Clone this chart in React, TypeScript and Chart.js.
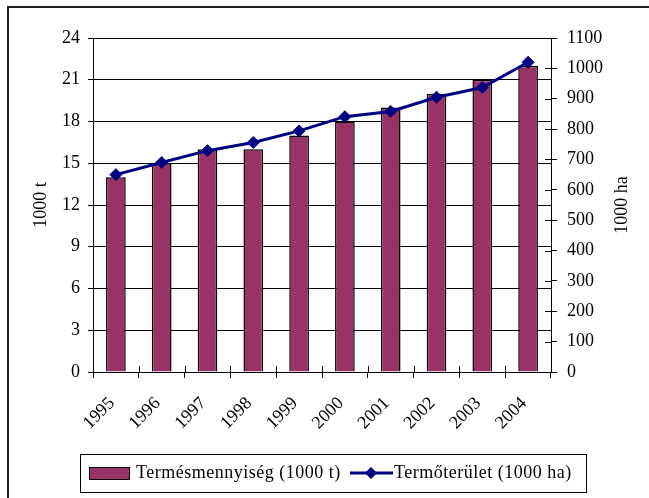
import React, { useEffect, useRef } from "react";
import { Chart, registerables } from "chart.js";

Chart.register(...registerables);

const years = ["1995", "1996", "1997", "1998", "1999", "2000", "2001", "2002", "2003", "2004"];
const yieldValues = [14, 15, 16, 16, 17, 18, 19, 20, 21, 22];
const areaValues = [650, 690, 729, 756, 794, 841, 858, 905, 937, 1020];
const seriesNames = ["Termésmennyiség (1000 t)", "Termőterület (1000 ha)"];
const axisTitles = ["1000 t", "1000 ha"];
const leftRange = [0, 24, 3];
const rightRange = [0, 1100, 100];

const BAR = "#993366";
const LINE = "#000080";
const FONT = "'Liberation Serif', 'Times New Roman', serif";

const decorPlugin = {
  id: "decor",
  afterDraw(chart: any) {
    const ctx = chart.ctx as CanvasRenderingContext2D;
    const { right, top, bottom } = chart.chartArea;
    ctx.save();
    // outer frame (partially visible)
    ctx.strokeStyle = "#222";
    ctx.lineWidth = 2;
    ctx.beginPath();
    ctx.moveTo(8, 498);
    ctx.lineTo(8, 7);
    ctx.lineTo(649, 7);
    ctx.stroke();

    // inner parts of x ticks
    ctx.strokeStyle = "#000";
    ctx.lineWidth = 1;
    const xs = chart.scales.x;
    for (let i = 0; i <= years.length; i++) {
      const px = Math.round(xs.getPixelForValue(i - 0.5)) + 0.5;
      ctx.beginPath();
      ctx.moveTo(px, bottom - 6);
      ctx.lineTo(px, bottom);
      ctx.stroke();
    }
    // inner parts of right ticks
    const y1 = chart.scales.y1;
    for (let v = rightRange[0]; v <= rightRange[1]; v += rightRange[2]) {
      const py = Math.round(y1.getPixelForValue(v)) + 0.5;
      ctx.beginPath();
      ctx.moveTo(right - 6, py);
      ctx.lineTo(right, py);
      ctx.stroke();
    }

    // axis titles
    ctx.fillStyle = "#000";
    ctx.font = `18px ${FONT}`;
    ctx.textAlign = "center";
    ctx.textBaseline = "middle";
    const cy = (top + bottom) / 2;
    ctx.save();
    ctx.translate(41, cy);
    ctx.rotate(-Math.PI / 2);
    ctx.fillText(axisTitles[0], 0, 0);
    ctx.restore();
    ctx.save();
    ctx.translate(622, cy);
    ctx.rotate(-Math.PI / 2);
    ctx.fillText(axisTitles[1], 0, 0);
    ctx.restore();

    // legend
    ctx.strokeStyle = "#000";
    ctx.lineWidth = 1;
    ctx.strokeRect(80.5, 454.5, 506, 38);
    const ly = 473;
    ctx.fillStyle = BAR;
    ctx.fillRect(89, 467, 40, 12);
    ctx.strokeRect(89.5, 467.5, 40, 12);
    ctx.fillStyle = "#000";
    ctx.textAlign = "left";
    ctx.textBaseline = "middle";
    (ctx as any).letterSpacing = "0.5px";
    ctx.fillText(seriesNames[0], 136, ly);
    ctx.strokeStyle = LINE;
    ctx.lineWidth = 3;
    ctx.beginPath();
    ctx.moveTo(350, ly);
    ctx.lineTo(393, ly);
    ctx.stroke();
    ctx.fillStyle = LINE;
    ctx.beginPath();
    ctx.moveTo(371 - 6, ly);
    ctx.lineTo(371, ly - 6);
    ctx.lineTo(371 + 6, ly);
    ctx.lineTo(371, ly + 6);
    ctx.closePath();
    ctx.fill();
    ctx.fillStyle = "#000";
    ctx.fillText(seriesNames[1], 394, ly);
    ctx.restore();
  },
};

export default function App() {
  const ref = useRef<HTMLCanvasElement>(null);
  useEffect(() => {
    document.body.style.margin = "0";
    document.body.style.overflow = "hidden";
    const canvas = ref.current!;
    const plain = (v: any) => String(v);
    const chart = new Chart(canvas, {
      type: "bar",
      data: {
        labels: years,
        datasets: [
          {
            type: "line",
            label: seriesNames[1],
            data: areaValues,
            yAxisID: "y1",
            borderColor: LINE,
            backgroundColor: LINE,
            borderWidth: 3,
            pointStyle: "rectRot",
            pointRadius: 6,
            pointBorderWidth: 1,
            pointBackgroundColor: LINE,
            pointBorderColor: LINE,
            tension: 0,
            order: 0,
          } as any,
          {
            type: "bar",
            label: seriesNames[0],
            data: yieldValues,
            yAxisID: "y",
            backgroundColor: BAR,
            borderColor: "#000",
            borderWidth: 1.5,
            categoryPercentage: 1,
            barPercentage: 0.43,
            order: 1,
          },
        ],
      },
      options: {
        responsive: false,
        animation: false,
        layout: { padding: { left: 0, right: 0, top: 38, bottom: 0 } },
        plugins: { legend: { display: false }, tooltip: { enabled: false } },
        scales: {
          x: {
            type: "category",
            offset: true,
            grid: { offset: true, drawOnChartArea: false, tickLength: 6, color: "#000" },
            border: { display: true, color: "#000" },
            ticks: {
              minRotation: 45,
              maxRotation: 45,
              autoSkip: false,
              color: "#000",
              font: { family: FONT, size: 18 },
              padding: 15,
              labelOffset: -4,
            },
            afterFit: (s: any) => {
              s.height = 126;
            },
          },
          y: {
            position: "left",
            min: leftRange[0],
            max: leftRange[1],
            ticks: {
              stepSize: leftRange[2],
              color: "#000",
              font: { family: FONT, size: 18 },
              padding: 8,
              callback: plain,
            },
            grid: { color: "#000", tickLength: 5 },
            border: { display: true, color: "#000" },
            afterFit: (s: any) => {
              s.width = 93;
            },
          },
          y1: {
            position: "right",
            min: rightRange[0],
            max: rightRange[1],
            ticks: {
              stepSize: rightRange[2],
              color: "#000",
              font: { family: FONT, size: 18 },
              padding: 10,
              callback: plain,
            },
            grid: { drawOnChartArea: false, color: "#000", tickLength: 6 },
            border: { display: true, color: "#000" },
            afterFit: (s: any) => {
              s.width = 98;
            },
          },
        },
      },
      plugins: [decorPlugin],
    });
    return () => chart.destroy();
  }, []);
  return <canvas ref={ref} width={649} height={498} style={{ display: "block" }} />;
}
